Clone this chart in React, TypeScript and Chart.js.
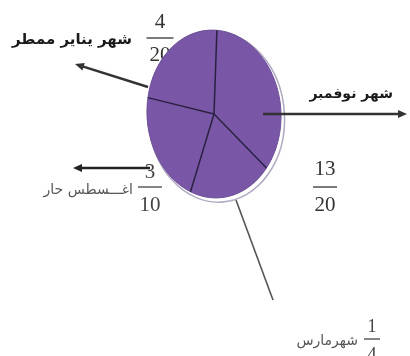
import { useEffect, useRef } from "react";
import { Chart, registerables } from "chart.js";

Chart.register(...registerables);

// ---- data ----
const categories = ["شهر نوفمبر", "شهرمارس", "اغـــسطس حار", "شهر يناير ممطر"];
const sliceValues = [35, 20, 22, 23];
const numerators = ["13", "1", "3", "4"];
const denominators = ["20", "4", "10", "20"];

// ---- layout / style ----
const W = 410;
const H = 356;
const SY = 84 / 67; // vertical stretch of pie into an ellipse
const TILT = -0.06; // radians
const PURPLE = "#7957a6";

// label anchors, as offsets from the pie centre (px)
const labelPos = [
  { tx: 179, ty: -20, bold: true, size: 14, color: "#1a1a1a" },
  { tx: 144, ty: 227, bold: false, size: 14, color: "#555" },
  { tx: -81, ty: 76, bold: false, size: 14, color: "#555" },
  { tx: -82, ty: -74, bold: true, size: 15, color: "#1a1a1a" },
];
const fracPos = [
  { fx: 111, num: 55, bar: 73, den: 91, bw: 24, size: 21, color: "#333" },
  { fx: 158, num: 213, bar: 225, den: 241, bw: 16, size: 18, color: "#444" },
  { fx: -64, num: 58, bar: 73, den: 91, bw: 24, size: 21, color: "#444" },
  { fx: -54, num: -92, bar: -76, den: -59, bw: 27, size: 21, color: "#333" },
];
// arrows: [from, to, head]
const arrows = [
  { x1: 49, y1: 0, x2: 193, y2: 0, head: true, w: 2.5, c: "#333" },
  { x1: 22, y1: 86, x2: 59, y2: 186, head: false, w: 1.6, c: "#555" },
  { x1: -64, y1: 54, x2: -141, y2: 54, head: true, w: 2.5, c: "#222" },
  { x1: -66, y1: -27, x2: -139, y2: -50, head: true, w: 2.5, c: "#333" },
];

function ellipsePoint(cx: number, cy: number, r: number, a: number) {
  const u = r * Math.cos(a);
  const v = SY * r * Math.sin(a);
  return {
    x: cx + u * Math.cos(TILT) - v * Math.sin(TILT),
    y: cy + u * Math.sin(TILT) + v * Math.cos(TILT),
  };
}

function drawFraction(ctx: CanvasRenderingContext2D, cx: number, cy: number, i: number) {
  const f = fracPos[i];
  ctx.save();
  ctx.fillStyle = f.color;
  ctx.strokeStyle = f.color;
  ctx.font = `${f.size}px "Liberation Serif", serif`;
  ctx.textAlign = "center";
  ctx.textBaseline = "middle";
  ctx.fillText(numerators[i], cx + f.fx, cy + f.num);
  ctx.fillText(denominators[i], cx + f.fx, cy + f.den);
  ctx.lineWidth = 1.3;
  ctx.beginPath();
  ctx.moveTo(cx + f.fx - f.bw / 2, cy + f.bar);
  ctx.lineTo(cx + f.fx + f.bw / 2, cy + f.bar);
  ctx.stroke();
  ctx.restore();
}

function drawLabel(ctx: CanvasRenderingContext2D, cx: number, cy: number, i: number) {
  const l = labelPos[i];
  ctx.save();
  ctx.fillStyle = l.color;
  ctx.font = `${l.bold ? "bold " : ""}${l.size}px "DejaVu Sans", sans-serif`;
  ctx.textAlign = "right";
  ctx.textBaseline = "middle";
  ctx.fillText(categories[i], cx + l.tx, cy + l.ty);
  ctx.restore();
}

function drawArrow(ctx: CanvasRenderingContext2D, cx: number, cy: number, i: number) {
  const a = arrows[i];
  const x1 = cx + a.x1, y1 = cy + a.y1, x2 = cx + a.x2, y2 = cy + a.y2;
  const ang = Math.atan2(y2 - y1, x2 - x1);
  const hl = a.head ? 9 : 0;
  ctx.save();
  ctx.strokeStyle = a.c;
  ctx.fillStyle = a.c;
  ctx.lineWidth = a.w;
  ctx.beginPath();
  ctx.moveTo(x1, y1);
  ctx.lineTo(x2 - hl * 0.6 * Math.cos(ang), y2 - hl * 0.6 * Math.sin(ang));
  ctx.stroke();
  if (a.head) {
    ctx.beginPath();
    ctx.moveTo(x2, y2);
    ctx.lineTo(x2 - hl * Math.cos(ang) + 4 * Math.sin(ang), y2 - hl * Math.sin(ang) - 4 * Math.cos(ang));
    ctx.lineTo(x2 - hl * Math.cos(ang) - 4 * Math.sin(ang), y2 - hl * Math.sin(ang) + 4 * Math.cos(ang));
    ctx.closePath();
    ctx.fill();
  }
  ctx.restore();
}

const ellipsePlugin = {
  id: "ellipsePie",
  beforeDatasetsDraw(chart: any) {
    const ctx: CanvasRenderingContext2D = chart.ctx;
    const arc = chart.getDatasetMeta(0).data[0] as any;
    const { x, y, outerRadius } = arc;
    // fraction partly hidden behind the pie
    drawFraction(ctx, x, y, 3);
    // offset light rim
    ctx.save();
    ctx.translate(x + 2.5, y + 3);
    ctx.rotate(TILT);
    ctx.scale(1, SY);
    ctx.beginPath();
    ctx.arc(0, 0, outerRadius + 1, 0, Math.PI * 2);
    ctx.restore();
    ctx.save();
    ctx.strokeStyle = "#b3abc3";
    ctx.lineWidth = 1.6;
    ctx.stroke();
    ctx.restore();
    // transform for the elliptical pie
    ctx.save();
    ctx.translate(x, y);
    ctx.rotate(TILT);
    ctx.scale(1, SY);
    ctx.translate(-x, -y);
  },
  afterDatasetsDraw(chart: any) {
    const ctx: CanvasRenderingContext2D = chart.ctx;
    ctx.restore();
    const meta = chart.getDatasetMeta(0);
    const arc0 = meta.data[0] as any;
    const { x, y } = arc0;
    // thin outline
    ctx.save();
    ctx.translate(x, y);
    ctx.rotate(TILT);
    ctx.scale(1, SY);
    ctx.beginPath();
    ctx.arc(0, 0, arc0.outerRadius, 0, Math.PI * 2);
    ctx.restore();
    ctx.save();
    ctx.strokeStyle = "#6c4f98";
    ctx.lineWidth = 1;
    ctx.stroke();
    ctx.restore();
    // separators
    ctx.save();
    ctx.strokeStyle = "#2a2042";
    ctx.lineWidth = 1.5;
    meta.data.forEach((el: any) => {
      const p = ellipsePoint(x, y, el.outerRadius, el.startAngle);
      ctx.beginPath();
      ctx.moveTo(x, y);
      ctx.lineTo(p.x, p.y);
      ctx.stroke();
    });
    ctx.restore();
    [0, 1, 2].forEach((i) => drawFraction(ctx, x, y, i));
    categories.forEach((_, i) => drawLabel(ctx, x, y, i));
    arrows.forEach((_, i) => drawArrow(ctx, x, y, i));
  },
};

export default function App() {
  const ref = useRef<HTMLCanvasElement | null>(null);
  useEffect(() => {
    document.body.style.margin = "0";
    document.body.style.background = "#ffffff";
    if (!ref.current) return;
    const chart = new Chart(ref.current, {
      type: "pie",
      data: {
        labels: categories,
        datasets: [
          {
            data: sliceValues,
            backgroundColor: sliceValues.map(() => PURPLE),
            borderWidth: 0,
            clip: false as any,
          },
        ],
      },
      options: {
        animation: false,
        responsive: false,
        rotation: 6.8,
        layout: { padding: { left: 147, right: 129, top: 47, bottom: 175 } },
        plugins: { legend: { display: false }, tooltip: { enabled: false } },
      },
      plugins: [ellipsePlugin],
    });
    return () => chart.destroy();
  }, []);
  return (
    <div style={{ width: W, height: H, background: "#fff" }}>
      <canvas ref={ref} width={W} height={H} style={{ display: "block" }} />
    </div>
  );
}
